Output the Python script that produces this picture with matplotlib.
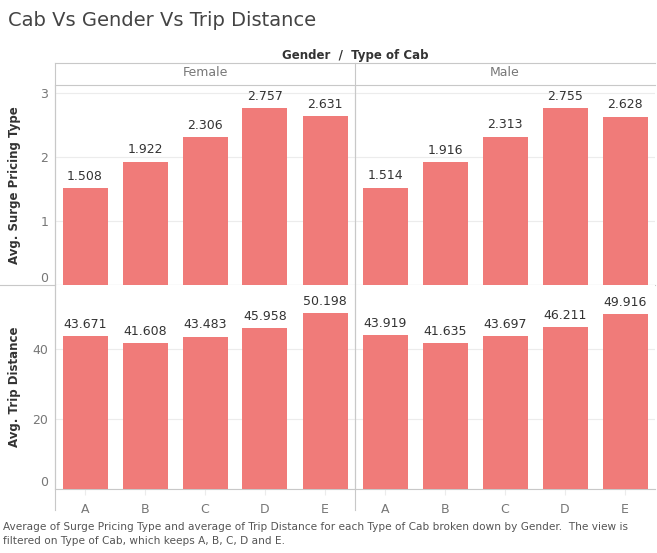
import matplotlib.pyplot as plt

cabs = ["A", "B", "C", "D", "E"]
genders = ["Female", "Male"]
surge = {"Female": [1.508, 1.922, 2.306, 2.757, 2.631],
         "Male": [1.514, 1.916, 2.313, 2.755, 2.628]}
trip = {"Female": [43.671, 41.608, 43.483, 45.958, 50.198],
        "Male": [43.919, 41.635, 43.697, 46.211, 49.916]}

W, H = 657, 553
fig = plt.figure(figsize=(W / 100, H / 100), dpi=100)
bar_c = "#f07b79"
grid_c = "#ececec"
line_c = "#c8c8c8"
txt_c = "#333333"
tick_c = "#777777"

x0, xm, x1 = 55, 355, 655
rows = [(85, 285), (285, 489)]
metrics = [(surge, "Avg. Surge Pricing Type", (0, 3.12), [0, 1, 2, 3], "{:.3f}"),
           (trip, "Avg. Trip Distance", (0, 58.3), [0, 20, 40], "{:.3f}")]

for r, (data, ylab, ylim, yt, fmt) in enumerate(metrics):
    top, bot = rows[r]
    for g, gender in enumerate(genders):
        left = x0 if g == 0 else xm
        ax = fig.add_axes([left / W, 1 - bot / H, 300 / W, (bot - top) / H])
        ax.bar(range(5), data[gender], width=0.75, color=bar_c, zorder=3)
        for i, v in enumerate(data[gender]):
            ax.annotate(fmt.format(v), (i, v), xytext=(0, 4), textcoords="offset points",
                        ha="center", va="bottom", fontsize=9, color=txt_c)
        ax.set_xlim(-0.5, 4.5)
        ax.set_ylim(*ylim)
        ax.set_yticks(yt)
        ax.grid(axis="y", color=grid_c, lw=0.8, zorder=0)
        for s in ax.spines.values():
            s.set_visible(False)
        ax.spines["left"].set_visible(True)
        ax.spines["left"].set_color(line_c)
        ax.spines["bottom"].set_visible(True)
        ax.spines["bottom"].set_color(line_c)
        ax.tick_params(axis="y", length=0, labelsize=9, labelcolor=tick_c, pad=5)
        if g == 1:
            ax.set_yticklabels([])
        else:
            ax.get_yticklabels()[0].set_va("bottom")
        if r == 1:
            ax.set_xticks(range(5))
            ax.set_xticklabels(cabs, fontsize=9, color=tick_c)
            ax.tick_params(axis="x", length=4, color=grid_c, pad=6)
        else:
            ax.set_xticks([])
    fig.text(15 / W, 1 - (top + bot) / 2 / H, ylab, rotation=90, fontsize=8.5, color=txt_c,
             fontweight="semibold", ha="center", va="center")

# headers
fig.text(8 / W, 1 - 20 / H, "Cab Vs Gender Vs Trip Distance", fontsize=14, color="#444444", va="center")
fig.text(355 / W, 1 - 55 / H, "Gender  /  Type of Cab", fontsize=8.5, fontweight="bold", color=txt_c,
         ha="center", va="center")
fig.text(205 / W, 1 - 73 / H, "Female", fontsize=9, color=tick_c, ha="center", va="center")
fig.text(505 / W, 1 - 73 / H, "Male", fontsize=9, color=tick_c, ha="center", va="center")
for y in [63, 85]:
    fig.add_artist(plt.Line2D([x0 / W, x1 / W], [1 - y / H, 1 - y / H], color=line_c, lw=0.8))
fig.add_artist(plt.Line2D([0, x0 / W], [1 - 285 / H, 1 - 285 / H], color=line_c, lw=0.8))
fig.add_artist(plt.Line2D([xm / W, xm / W], [1 - 63 / H, 1 - 510 / H], color=line_c, lw=0.8))
fig.add_artist(plt.Line2D([x0 / W, x0 / W], [1 - 63 / H, 1 - 510 / H], color=line_c, lw=0.8))

fig.text(3 / W, 1 - 534 / H,
         "Average of Surge Pricing Type and average of Trip Distance for each Type of Cab broken down by Gender.  The view is\n"
         "filtered on Type of Cab, which keeps A, B, C, D and E.",
         fontsize=7.6, color="#555555", va="center", linespacing=1.5)

fig.savefig("out.png", dpi=100)
